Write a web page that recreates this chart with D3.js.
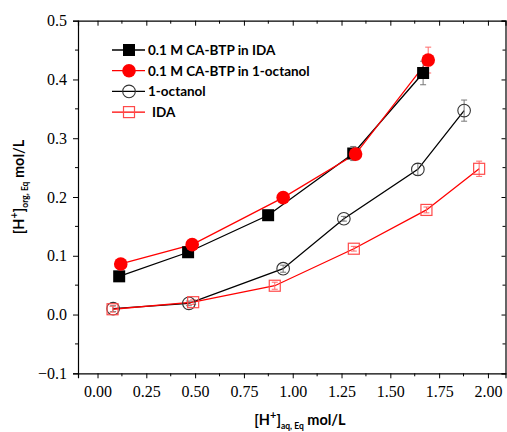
<!DOCTYPE html>
<html>
<head>
<meta charset="utf-8">
<script src="https://cdn.jsdelivr.net/npm/d3@7"></script>
<style>
  body { margin: 0; background: #fff; }
  svg { display: block; }
</style>
</head>
<body>
<div id="chart"></div>
<script>
// data
var btpIdaX = [0.111, 0.464, 0.874, 1.31, 1.668]
var btpIdaY = [0.065, 0.106, 0.169, 0.274, 0.411]
var btpIdaErr = [0.004, 0.004, 0.004, 0.012, 0.02]

var btpOctX = [0.119, 0.485, 0.951, 1.322, 1.694]
var btpOctY = [0.086, 0.119, 0.199, 0.273, 0.433]
var btpOctErr = [0.004, 0.004, 0.004, 0.006, 0.022]

var octX = [0.080, 0.468, 0.951, 1.262, 1.641, 1.878]
var octY = [0.010, 0.019, 0.078, 0.163, 0.247, 0.347]
var octErr = [0.005, 0.004, 0.006, 0.004, 0.01, 0.018]

var idaX = [0.077, 0.49, 0.908, 1.313, 1.685, 1.955]
var idaY = [0.009, 0.021, 0.049, 0.112, 0.178, 0.248]
var idaErr = [0.005, 0.004, 0.006, 0.004, 0.005, 0.013]

var xTicks = [0, 0.25, 0.5, 0.75, 1, 1.25, 1.5, 1.75, 2]
var yTicks = [-0.1, 0, 0.1, 0.2, 0.3, 0.4, 0.5]

var series = [
  {name: "0.1 M CA-BTP in IDA", xs: btpIdaX, ys: btpIdaY, err: btpIdaErr, line: "#000", mark: "square", fill: "#000", stroke: "#000", errColor: "#777"},
  {name: "0.1 M CA-BTP in 1-octanol", xs: btpOctX, ys: btpOctY, err: btpOctErr, line: "#ff0000", mark: "circle", fill: "#ff0000", stroke: "#ff0000", errColor: "#ff6b6b"},
  {name: "1-octanol", xs: octX, ys: octY, err: octErr, line: "#000", mark: "circle", fill: "none", stroke: "#333", errColor: "#777"},
  {name: "IDA", xs: idaX, ys: idaY, err: idaErr, line: "#ff0000", mark: "square", fill: "none", stroke: "#ff4a4a", errColor: "#ff6b6b"}
]

var width = 507, height = 432
var plotLeft = 78, plotRight = 505.5, plotTop = 20.7, plotBottom = 373.3

var svg = d3.select("#chart").append("svg")
  .attr("width", width)
  .attr("height", height)

var x = d3.scaleLinear().domain([-0.1, 2.09]).range([plotLeft, plotRight])
var y = d3.scaleLinear().domain([-0.1, 0.5]).range([plotBottom, plotTop])

var serif = "'Liberation Serif', 'Times New Roman', serif"
var sans = "Lato, 'Liberation Sans', sans-serif"

// axes: bottom/left ticks outward, top/right mirrored inward
var xMinor = [0.125, 0.375, 0.625, 0.875, 1.125, 1.375, 1.625, 1.875]
var yMinor = [-0.05, 0.05, 0.15, 0.25, 0.35, 0.45]

var bottomAxis = svg.append("g")
  .attr("transform", "translate(0," + plotBottom + ")")
  .call(d3.axisBottom(x).tickValues(xTicks).tickFormat(d3.format(".2f")).tickSize(5).tickPadding(7))
bottomAxis.append("g").selectAll("line").data(xMinor).enter().append("line")
  .attr("x1", function(d){ return x(d) }).attr("x2", function(d){ return x(d) })
  .attr("y1", 0).attr("y2", 3).attr("stroke", "#000")

var leftAxis = svg.append("g")
  .attr("transform", "translate(" + plotLeft + ",0)")
  .call(d3.axisLeft(y).tickValues(yTicks).tickFormat(function(d){ return d < 0 ? "\u22120.1" : d3.format(".1f")(d) }).tickSize(5).tickPadding(6))
leftAxis.append("g").selectAll("line").data(yMinor).enter().append("line")
  .attr("y1", function(d){ return y(d) }).attr("y2", function(d){ return y(d) })
  .attr("x1", 0).attr("x2", -3).attr("stroke", "#000")

var topAxis = svg.append("g")
  .attr("transform", "translate(0," + plotTop + ")")
  .call(d3.axisBottom(x).tickValues(xTicks).tickFormat("").tickSize(5))
topAxis.append("g").selectAll("line").data(xMinor).enter().append("line")
  .attr("x1", function(d){ return x(d) }).attr("x2", function(d){ return x(d) })
  .attr("y1", 0).attr("y2", 3).attr("stroke", "#000")

var rightAxis = svg.append("g")
  .attr("transform", "translate(" + plotRight + ",0)")
  .call(d3.axisLeft(y).tickValues(yTicks).tickFormat("").tickSize(4))
rightAxis.append("g").selectAll("line").data(yMinor).enter().append("line")
  .attr("y1", function(d){ return y(d) }).attr("y2", function(d){ return y(d) })
  .attr("x1", 0).attr("x2", -3).attr("stroke", "#000")

svg.selectAll(".domain").attr("stroke", "#000").attr("stroke-width", 1.2)
svg.selectAll(".tick line").attr("stroke", "#000")
svg.selectAll(".tick text")
  .style("font-family", serif)
  .style("font-size", "16px")
  .attr("fill", "#000")

// data lines
var lineGen = d3.line()
series.forEach(function(s){
  var pts = s.xs.map(function(v, i){ return [x(v), y(s.ys[i])] })
  svg.append("path")
    .attr("d", lineGen(pts))
    .attr("fill", "none")
    .attr("stroke", s.line)
    .attr("stroke-width", 1.3)
})

// error bars
series.forEach(function(s){
  var g = svg.append("g").attr("stroke", s.errColor).attr("stroke-width", 1)
  s.xs.forEach(function(v, i){
    var cx = x(v), y1 = y(s.ys[i] - s.err[i]), y2 = y(s.ys[i] + s.err[i])
    g.append("line").attr("x1", cx).attr("x2", cx).attr("y1", y1).attr("y2", y2)
    g.append("line").attr("x1", cx - 3).attr("x2", cx + 3).attr("y1", y1).attr("y2", y1)
    g.append("line").attr("x1", cx - 3).attr("x2", cx + 3).attr("y1", y2).attr("y2", y2)
  })
})

function drawMarker(g, s, cx, cy) {
  if (s.mark === "square") {
    var h = s.fill === "none" ? 5.5 : 6
    g.append("rect")
      .attr("x", cx - h).attr("y", cy - h)
      .attr("width", 2 * h).attr("height", 2 * h)
      .attr("fill", s.fill).attr("stroke", s.stroke).attr("stroke-width", s.fill === "none" ? 1.2 : 0)
  } else {
    g.append("circle")
      .attr("cx", cx).attr("cy", cy).attr("r", s.fill === "none" ? 6.3 : 6.8)
      .attr("fill", s.fill).attr("stroke", s.stroke).attr("stroke-width", s.fill === "none" ? 1.1 : 0)
  }
}

// markers
series.forEach(function(s){
  var g = svg.append("g")
  s.xs.forEach(function(v, i){ drawMarker(g, s, x(v), y(s.ys[i])) })
})

// legend
var legend = svg.append("g")
series.forEach(function(s, i){
  var ly = 50 + i * 20.7
  legend.append("line")
    .attr("x1", 112).attr("x2", 145).attr("y1", ly).attr("y2", ly)
    .attr("stroke", s.line).attr("stroke-width", 1.3)
  drawMarker(legend, s, 129, ly)
  legend.append("text")
    .attr("x", s.name === "IDA" ? 152 : 148).attr("y", ly + 5)
    .style("font-family", sans)
    .style("font-size", "13.5px")
    .style("font-weight", "bold")
    .text(s.name)
})

// axis titles
var xt = svg.append("text")
  .attr("x", 300).attr("y", 425)
  .attr("text-anchor", "middle")
  .style("font-family", sans)
  .style("font-weight", "bold")
  .style("font-size", "14.5px")
xt.append("tspan").text("[H")
xt.append("tspan").attr("dy", -6).style("font-size", "11px").text("+")
xt.append("tspan").attr("dy", 6).text("]")
xt.append("tspan").attr("dy", 4).style("font-size", "8.5px").text("aq, Eq")
xt.append("tspan").attr("dy", -4).text(" mol/L")

var yt = svg.append("text")
  .attr("transform", "translate(24,187) rotate(-90)")
  .attr("text-anchor", "middle")
  .style("font-family", sans)
  .style("font-weight", "bold")
  .style("font-size", "14.5px")
yt.append("tspan").text("[H")
yt.append("tspan").attr("dy", -6).style("font-size", "11px").text("+")
yt.append("tspan").attr("dy", 6).text("]")
yt.append("tspan").attr("dy", 4).style("font-size", "8.5px").text("org, Eq")
yt.append("tspan").attr("dy", -4).text(" mol/L")
</script>
</body>
</html>
